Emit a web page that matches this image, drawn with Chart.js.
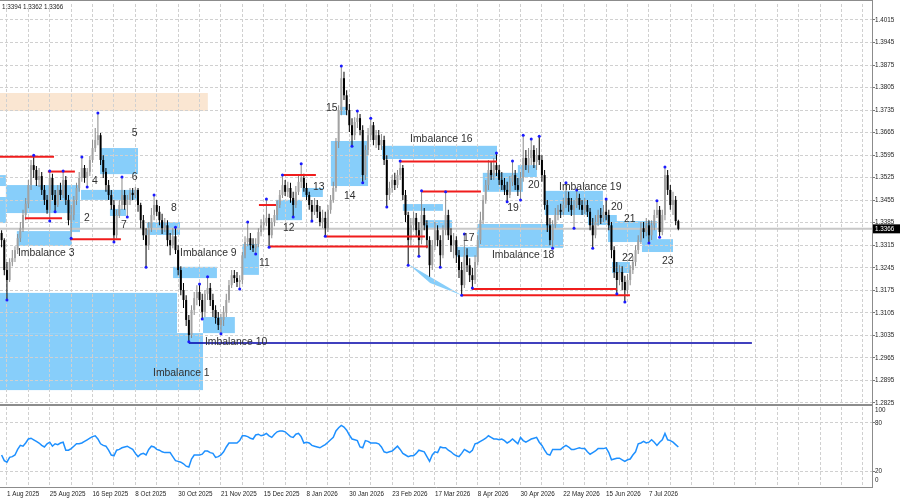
<!DOCTYPE html>
<html><head><meta charset="utf-8">
<script src="https://cdn.jsdelivr.net/npm/chart.js@4.4.1/dist/chart.umd.min.js"></script>
<style>
html,body{margin:0;padding:0;background:#fff;width:900px;height:500px;overflow:hidden}
#main{position:absolute;left:0;top:0}
#rsi{position:absolute;left:0;top:400px}
</style></head><body>
<canvas id="main" width="900" height="408"></canvas>
<canvas id="rsi" width="900" height="100"></canvas>
<script>
// ---------- DATA (daily bars; bar index 0 = 1 Aug 2025) ----------
const FIRST_BAR = -2;
const openP = [
1.3353,1.3331,1.3238,1.3207,1.3263,1.3275,1.3300,1.3337,1.3368,1.3409,
1.3444,1.3502,1.3564,1.3549,1.3518,1.3530,1.3487,1.3456,1.3425,1.3524,
1.3471,1.3440,1.3487,1.3471,1.3518,1.3456,1.3393,1.3409,1.3456,1.3493,
1.3524,1.3555,1.3524,1.3543,1.3580,1.3617,1.3642,1.3657,1.3580,1.3543,
1.3502,1.3471,1.3440,1.3346,1.3409,1.3440,1.3471,1.3440,1.3456,1.3478,
1.3471,1.3487,1.3440,1.3393,1.3346,1.3315,1.3368,1.3409,1.3440,1.3419,
1.3393,1.3368,1.3377,1.3331,1.3315,1.3343,1.3300,1.3238,1.3176,1.3145,
1.3083,1.3036,1.3114,1.3151,1.3170,1.3145,1.3108,1.3164,1.3182,1.3145,
1.3114,1.3089,1.3067,1.3083,1.3108,1.3145,1.3191,1.3222,1.3213,1.3201,
1.3207,1.3284,1.3325,1.3337,1.3315,1.3306,1.3319,1.3356,1.3377,1.3387,
1.3400,1.3346,1.3387,1.3409,1.3440,1.3471,1.3502,1.3481,1.3493,1.3462,
1.3440,1.3481,1.3512,1.3524,1.3493,1.3471,1.3440,1.3419,1.3440,1.3419,
1.3387,1.3400,1.3368,1.3425,1.3456,1.3493,1.3636,1.3735,1.3834,1.3781,
1.3735,1.3688,1.3657,1.3698,1.3710,1.3673,1.3533,1.3611,1.3657,1.3688,
1.3642,1.3657,1.3626,1.3642,1.3580,1.3471,1.3493,1.3518,1.3502,1.3533,
1.3555,1.3471,1.3409,1.3331,1.3377,1.3400,1.3362,1.3331,1.3409,1.3377,
1.3331,1.3253,1.3315,1.3362,1.3331,1.3284,1.3362,1.3409,1.3346,1.3315,
1.3331,1.3284,1.3238,1.3191,1.3284,1.3253,1.3222,1.3207,1.3263,1.3331,
1.3393,1.3456,1.3502,1.3549,1.3533,1.3564,1.3549,1.3518,1.3502,1.3487,
1.3471,1.3512,1.3533,1.3502,1.3487,1.3524,1.3586,1.3564,1.3586,1.3611,
1.3574,1.3595,1.3580,1.3533,1.3440,1.3377,1.3331,1.3377,1.3409,1.3425,
1.3419,1.3440,1.3462,1.3440,1.3425,1.3440,1.3462,1.3440,1.3425,1.3440,
1.3419,1.3377,1.3346,1.3387,1.3409,1.3400,1.3419,1.3409,1.3377,1.3300,
1.3232,1.3207,1.3232,1.3201,1.3176,1.3207,1.3238,1.3263,1.3300,1.3331,
1.3368,1.3356,1.3377,1.3346,1.3377,1.3409,1.3425,1.3356,1.3409,1.3533,
1.3487,1.3440,1.3456,1.3390];
const highP = [
1.3362,1.3337,1.3263,1.3275,1.3300,1.3312,1.3350,1.3387,1.3425,1.3462,
1.3518,1.3580,1.3595,1.3561,1.3555,1.3543,1.3502,1.3471,1.3546,1.3537,
1.3487,1.3502,1.3509,1.3546,1.3530,1.3471,1.3440,1.3468,1.3509,1.3543,
1.3589,1.3564,1.3555,1.3592,1.3642,1.3679,1.3726,1.3664,1.3595,1.3555,
1.3518,1.3487,1.3456,1.3425,1.3456,1.3527,1.3487,1.3471,1.3493,1.3493,
1.3496,1.3493,1.3447,1.3409,1.3368,1.3387,1.3431,1.3471,1.3456,1.3437,
1.3413,1.3400,1.3393,1.3353,1.3368,1.3371,1.3315,1.3250,1.3198,1.3160,
1.3098,1.3129,1.3170,1.3191,1.3195,1.3164,1.3176,1.3217,1.3198,1.3164,
1.3129,1.3108,1.3102,1.3126,1.3164,1.3207,1.3238,1.3238,1.3232,1.3222,
1.3294,1.3343,1.3387,1.3353,1.3337,1.3337,1.3368,1.3396,1.3409,1.3459,
1.3413,1.3400,1.3425,1.3456,1.3487,1.3533,1.3518,1.3512,1.3509,1.3481,
1.3499,1.3530,1.3568,1.3537,1.3509,1.3481,1.3456,1.3462,1.3456,1.3437,
1.3425,1.3419,1.3440,1.3471,1.3512,1.3648,1.3750,1.3872,1.3854,1.3797,
1.3754,1.3710,1.3713,1.3732,1.3723,1.3688,1.3626,1.3679,1.3710,1.3698,
1.3673,1.3673,1.3661,1.3655,1.3595,1.3512,1.3533,1.3540,1.3549,1.3577,
1.3564,1.3487,1.3419,1.3400,1.3419,1.3415,1.3387,1.3484,1.3431,1.3393,
1.3343,1.3331,1.3387,1.3377,1.3346,1.3377,1.3481,1.3425,1.3368,1.3353,
1.3343,1.3300,1.3263,1.3350,1.3306,1.3275,1.3244,1.3284,1.3346,1.3419,
1.3471,1.3518,1.3580,1.3574,1.3586,1.3602,1.3564,1.3543,1.3524,1.3512,
1.3530,1.3577,1.3549,1.3524,1.3543,1.3657,1.3611,1.3617,1.3645,1.3626,
1.3617,1.3654,1.3595,1.3549,1.3456,1.3400,1.3393,1.3431,1.3440,1.3444,
1.3462,1.3509,1.3481,1.3462,1.3456,1.3487,1.3475,1.3456,1.3462,1.3456,
1.3431,1.3400,1.3409,1.3425,1.3431,1.3440,1.3459,1.3425,1.3387,1.3312,
1.3263,1.3253,1.3250,1.3220,1.3226,1.3253,1.3281,1.3315,1.3346,1.3387,
1.3387,1.3400,1.3393,1.3393,1.3425,1.3453,1.3437,1.3425,1.3558,1.3549,
1.3502,1.3481,1.3468,1.3394];
const lowP = [
1.3309,1.3222,1.3145,1.3201,1.3250,1.3263,1.3288,1.3325,1.3356,1.3393,
1.3431,1.3487,1.3524,1.3499,1.3496,1.3471,1.3440,1.3413,1.3390,1.3456,
1.3419,1.3434,1.3456,1.3462,1.3440,1.3377,1.3337,1.3393,1.3440,1.3481,
1.3512,1.3509,1.3496,1.3530,1.3571,1.3605,1.3626,1.3564,1.3524,1.3481,
1.3456,1.3425,1.3325,1.3337,1.3400,1.3425,1.3425,1.3403,1.3440,1.3456,
1.3462,1.3419,1.3368,1.3331,1.3247,1.3300,1.3356,1.3393,1.3406,1.3377,
1.3350,1.3356,1.3312,1.3284,1.3306,1.3288,1.3222,1.3160,1.3120,1.3064,
1.3015,1.3027,1.3098,1.3129,1.3126,1.3086,1.3092,1.3145,1.3126,1.3092,
1.3071,1.3052,1.3040,1.3064,1.3092,1.3136,1.3182,1.3198,1.3185,1.3179,
1.3195,1.3275,1.3312,1.3300,1.3294,1.3288,1.3309,1.3343,1.3362,1.3374,
1.3309,1.3337,1.3374,1.3393,1.3431,1.3462,1.3468,1.3465,1.3447,1.3403,
1.3431,1.3471,1.3493,1.3481,1.3456,1.3425,1.3390,1.3409,1.3400,1.3374,
1.3368,1.3343,1.3356,1.3413,1.3447,1.3481,1.3617,1.3719,1.3766,1.3719,
1.3667,1.3623,1.3642,1.3679,1.3657,1.3509,1.3518,1.3595,1.3642,1.3626,
1.3617,1.3611,1.3611,1.3564,1.3434,1.3456,1.3478,1.3487,1.3493,1.3518,
1.3456,1.3387,1.3253,1.3315,1.3362,1.3343,1.3281,1.3318,1.3362,1.3306,
1.3217,1.3238,1.3300,1.3312,1.3247,1.3275,1.3346,1.3331,1.3294,1.3275,
1.3260,1.3213,1.3160,1.3182,1.3232,1.3201,1.3182,1.3195,1.3253,1.3319,
1.3381,1.3444,1.3487,1.3518,1.3518,1.3530,1.3502,1.3487,1.3471,1.3450,
1.3462,1.3499,1.3487,1.3468,1.3456,1.3512,1.3549,1.3540,1.3564,1.3555,
1.3549,1.3564,1.3512,1.3425,1.3356,1.3315,1.3306,1.3368,1.3393,1.3400,
1.3409,1.3431,1.3419,1.3406,1.3368,1.3431,1.3425,1.3409,1.3413,1.3403,
1.3362,1.3306,1.3337,1.3374,1.3381,1.3387,1.3393,1.3362,1.3275,1.3213,
1.3164,1.3191,1.3176,1.3139,1.3164,1.3191,1.3226,1.3250,1.3288,1.3319,
1.3337,1.3343,1.3322,1.3331,1.3362,1.3400,1.3340,1.3346,1.3393,1.3471,
1.3425,1.3409,1.3377,1.3362];
const closeP = [
1.3331,1.3238,1.3207,1.3263,1.3275,1.3300,1.3337,1.3368,1.3409,1.3444,
1.3502,1.3564,1.3549,1.3518,1.3530,1.3487,1.3456,1.3425,1.3524,1.3471,
1.3440,1.3487,1.3471,1.3518,1.3456,1.3393,1.3409,1.3456,1.3493,1.3524,
1.3555,1.3524,1.3543,1.3580,1.3617,1.3642,1.3657,1.3580,1.3543,1.3502,
1.3471,1.3440,1.3346,1.3409,1.3440,1.3471,1.3440,1.3456,1.3478,1.3471,
1.3487,1.3440,1.3393,1.3346,1.3315,1.3368,1.3409,1.3440,1.3419,1.3393,
1.3368,1.3377,1.3331,1.3315,1.3343,1.3300,1.3238,1.3176,1.3145,1.3083,
1.3036,1.3114,1.3151,1.3170,1.3145,1.3108,1.3164,1.3182,1.3145,1.3114,
1.3089,1.3067,1.3083,1.3108,1.3145,1.3191,1.3222,1.3213,1.3201,1.3207,
1.3284,1.3325,1.3337,1.3315,1.3306,1.3319,1.3356,1.3377,1.3387,1.3400,
1.3346,1.3387,1.3409,1.3440,1.3471,1.3502,1.3481,1.3493,1.3462,1.3440,
1.3481,1.3512,1.3524,1.3493,1.3471,1.3440,1.3419,1.3440,1.3419,1.3387,
1.3400,1.3368,1.3425,1.3456,1.3493,1.3636,1.3735,1.3834,1.3781,1.3735,
1.3688,1.3657,1.3698,1.3710,1.3673,1.3533,1.3611,1.3657,1.3688,1.3642,
1.3657,1.3626,1.3642,1.3580,1.3471,1.3493,1.3518,1.3502,1.3533,1.3555,
1.3471,1.3409,1.3331,1.3377,1.3400,1.3362,1.3331,1.3409,1.3377,1.3331,
1.3253,1.3315,1.3362,1.3331,1.3284,1.3362,1.3409,1.3346,1.3315,1.3331,
1.3284,1.3238,1.3191,1.3284,1.3253,1.3222,1.3207,1.3263,1.3331,1.3393,
1.3456,1.3502,1.3549,1.3533,1.3564,1.3549,1.3518,1.3502,1.3487,1.3471,
1.3512,1.3533,1.3502,1.3487,1.3524,1.3586,1.3564,1.3586,1.3611,1.3574,
1.3595,1.3580,1.3533,1.3440,1.3377,1.3331,1.3377,1.3409,1.3425,1.3419,
1.3440,1.3462,1.3440,1.3425,1.3440,1.3462,1.3440,1.3425,1.3440,1.3419,
1.3377,1.3346,1.3387,1.3409,1.3400,1.3419,1.3409,1.3377,1.3300,1.3232,
1.3207,1.3232,1.3201,1.3176,1.3207,1.3238,1.3263,1.3300,1.3331,1.3368,
1.3356,1.3377,1.3346,1.3377,1.3409,1.3425,1.3356,1.3409,1.3533,1.3487,
1.3440,1.3456,1.3390,1.3366];
const rsiValues = [
40,33,31,37,38,40,47,52,51,55,
60,61,59,57,55,52,50,54,56,51,
54,53,55,56,46,46,48,51,54,54,
55,57,59,61,63,64,60,54,52,51,
46,40,39,46,47,49,50,51,49,47,
42,38,41,42,40,47,51,50,47,46,
44,43,43,43,38,33,32,31,29,26,
25,35,40,40,40,41,45,45,43,42,
37,38,40,44,50,55,55,55,55,58,
64,64,63,61,60,65,66,64,65,67,
64,62,66,69,70,70,69,66,63,62,
66,67,63,55,56,55,52,51,50,49,
51,53,56,59,62,70,74,77,75,71,
65,60,59,58,50,49,58,57,55,55,
55,54,50,44,43,44,45,48,51,47,
42,40,38,39,39,42,46,45,44,38,
32,40,44,43,50,49,49,46,44,41,
39,38,42,47,45,43,46,54,55,57,
59,61,64,62,60,60,59,60,58,55,
57,60,57,54,62,58,56,58,60,61,
62,56,52,46,41,40,47,47,47,47,
50,52,50,47,47,48,49,48,48,44,
41,43,45,48,48,48,49,43,34,35,
36,36,34,32,34,35,40,44,54,55,
57,55,56,59,56,52,56,59,67,59,
58,56,53,50];

// x-axis date labels, one every 16 bars starting at bar 0
const tickLabels = ['1 Aug 2025','25 Aug 2025','16 Sep 2025','8 Oct 2025','30 Oct 2025','21 Nov 2025',
  '15 Dec 2025','8 Jan 2026','30 Jan 2026','23 Feb 2026','17 Mar 2026','8 Apr 2026','30 Apr 2026',
  '22 May 2026','15 Jun 2026','7 Jul 2026'];
const priceTicks = [1.2825,1.2895,1.2965,1.3035,1.3105,1.3175,1.3245,1.3315,1.3385,1.3455,
  1.3525,1.3595,1.3665,1.3735,1.3805,1.3875,1.3945,1.4015];
const rsiLevels = [20, 80];

// zones: [fromBar, toBar, upperPrice, lowerPrice]
const supplyZones = [[-2.6, 75.1, 1.3788, 1.3732]];
const imbalanceZones = [
  [-2.6,-0.4,1.3533,1.3499],[-0.4,27.3,1.3502,1.3415],[-2.6,-0.4,1.3465,1.3384],[23.6,27.3,1.3415,1.3356],
  [3.7,24.3,1.3359,1.3313],[34.8,49.0,1.3617,1.3536],[27.7,49.0,1.3487,1.3456],[38.5,44.5,1.3428,1.3406],
  [52.3,64.7,1.3387,1.3347],[62.1,78.5,1.3248,1.3213],[73.3,85.2,1.3092,1.3042],[-2.6,63.6,1.3167,1.3042],
  [-2.6,73.3,1.3042,1.2865],[87.9,94.2,1.3319,1.3223],[100.6,110.3,1.3456,1.3393],[110.3,118.1,1.3493,1.3465],
  [121.1,135.0,1.3639,1.3499],[124.5,127.1,1.3745,1.3720],[140.2,183.2,1.3624,1.3583],[148.0,163.0,1.3443,1.3422],
  [156.3,166.4,1.3393,1.3369],[168.2,176.1,1.3310,1.3279],[175.7,207.9,1.3381,1.3307],[177.9,192.9,1.3540,1.3481],
  [191.0,198.1,1.3564,1.3527],[201.1,222.8,1.3484,1.3409],[217.2,228.0,1.3409,1.3378],[224.7,243.0,1.3390,1.3325],
  [226.2,232.9,1.3263,1.3229],[237.4,249.0,1.3334,1.3294]];
const wedge = [[150,1.3257],[170,1.3160],[158.2,1.3198]];
// liquidity levels: [fromBar, toBar, price]
const liquidityLines = [
  [-2.6,17.6,1.3590],[15.3,25.4,1.3544],[6.7,20.6,1.3399],[23.6,42.6,1.3334],[94.2,100.6,1.3440],
  [103.2,115.5,1.3533],[98.3,157.4,1.3311],[119.3,156.3,1.3342],[146.9,183.2,1.3575],[155.1,177.2,1.3482],
  [170.1,232.9,1.3160],[173.8,228.0,1.3179]];
const imbalanceLine = [68, 278.5, 1.3011];
// swing points [bar, price]
const fractals = [
  [0,1.3145],[10,1.3595],[16,1.3546],[16,1.3390],[18,1.3419],[21,1.3546],[24,1.3337],[28,1.3589],[30,1.3496],
  [34,1.3726],[40,1.3325],[43,1.3527],[45,1.3403],[52,1.3247],[55,1.3471],[63,1.3371],[68,1.3015],[72,1.3195],
  [73,1.3086],[75,1.3217],[80,1.3040],[87,1.3179],[90,1.3387],[93,1.3288],[97,1.3459],[98,1.3309],[103,1.3533],
  [107,1.3403],[110,1.3568],[114,1.3390],[119,1.3343],[125,1.3872],[129,1.3623],[131,1.3732],[133,1.3509],
  [136,1.3710],[142,1.3434],[147,1.3577],[150,1.3253],[154,1.3281],[155,1.3484],[162,1.3247],[164,1.3481],
  [170,1.3160],[171,1.3350],[174,1.3182],[183,1.3602],[187,1.3450],[189,1.3577],[192,1.3456],[193,1.3657],
  [196,1.3645],[199,1.3654],[204,1.3306],[209,1.3509],[212,1.3368],[213,1.3487],[219,1.3306],[224,1.3459],
  [228,1.3164],[231,1.3139],[240,1.3322],[243,1.3453],[244,1.3340],[246,1.3558]];
// text notes [text, bar, price]
const notes = [
  ['Imbalance 1',54.6,1.2918],['Imbalance 3',4.1,1.3291],['Imbalance 9',64.7,1.3291],['Imbalance 10',74.0,1.3014],
  ['Imbalance 16',150.7,1.3645],['Imbalance 18',181.3,1.3285],['Imbalance 19',206.4,1.3496],
  ['2',28.8,1.3400],['4',31.8,1.3515],['5',46.7,1.3664],['6',46.7,1.3527],['7',42.6,1.3378],['8',61.3,1.3431],
  ['11',94.2,1.3260],['12',103.2,1.3369],['13',114.4,1.3496],['14',126.0,1.3468],['15',119.3,1.3742],
  ['17',170.5,1.3338],['19',187.0,1.3431],['20',194.8,1.3502],['20',225.8,1.3434],['21',230.7,1.3397],
  ['22',229.9,1.3275],['23',244.9,1.3266]];

// ---------- STYLE ----------
const FONT_FAMILY = "'Liberation Sans', Arial, sans-serif";
const AXIS_FONT = {family: FONT_FAMILY, size: 6.3};
const AXIS_COLOR = '#1e1e1e';
const GRID_COLOR = '#d0d0d0';
const GRID_DASH = [3, 2];
const FRAME = '#8c8c8c';
const X_MIN = -2.6, X_MAX = 323.4;
const Y_MIN = 1.28218, Y_MAX = 1.40646;
Chart.defaults.font.family = FONT_FAMILY;

const gridBars = [];
for (let v = 0; v <= 320; v += 8) gridBars.push(v);

const last = closeP.length - 1;
const CURRENT = closeP[last];
const header = [highP[last], lowP[last], closeP[last]].map(v => v.toFixed(4)).join(' ');

const barX = k => k + FIRST_BAR;
const isBull = k => closeP[k] >= openP[k];
const wickColors = closeP.map((c, k) => isBull(k) ? '#8a8a8a' : '#000000');
const bodyColors = closeP.map((c, k) => isBull(k) ? '#a2a2a2' : '#000000');

const mainDecor = {
  id: 'mainDecor',
  beforeDraw(chart) {
    const {ctx, chartArea: a, scales: {x, y}} = chart;
    ctx.save();
    ctx.beginPath(); ctx.rect(a.left, a.top, a.width, a.height); ctx.clip();
    const rect = (z, color) => {
      const x0 = x.getPixelForValue(z[0]), x1 = x.getPixelForValue(z[1]);
      const y0 = y.getPixelForValue(z[2]), y1 = y.getPixelForValue(z[3]);
      ctx.fillStyle = color; ctx.fillRect(x0, y0, x1 - x0, y1 - y0);
    };
    supplyZones.forEach(z => rect(z, '#fae6d2'));
    imbalanceZones.forEach(z => rect(z, '#87cefa'));
    ctx.beginPath();
    wedge.forEach((p, k) => {
      const px = x.getPixelForValue(p[0]), py = y.getPixelForValue(p[1]);
      if (k === 0) ctx.moveTo(px, py); else ctx.lineTo(px, py);
    });
    ctx.closePath(); ctx.fillStyle = '#87cefa'; ctx.fill();
    ctx.restore();
  },
  afterDatasetsDraw(chart) {
    const {ctx, scales: {x, y}} = chart;
    ctx.save();
    ctx.font = '10.4px ' + FONT_FAMILY;
    ctx.fillStyle = '#303030';
    ctx.textAlign = 'left'; ctx.textBaseline = 'middle';
    notes.forEach(n => ctx.fillText(n[0], x.getPixelForValue(n[1]), y.getPixelForValue(n[2])));
    ctx.restore();
  },
  afterDraw(chart) {
    const {ctx, chartArea: a, scales: {y}} = chart;
    ctx.save();
    ctx.strokeStyle = FRAME; ctx.lineWidth = 1;
    ctx.beginPath(); ctx.moveTo(0, 0.5); ctx.lineTo(a.right, 0.5); ctx.stroke();
    ctx.beginPath(); ctx.moveTo(a.right + 0.5, 0); ctx.lineTo(a.right + 0.5, chart.height); ctx.stroke();
    const py = y.getPixelForValue(CURRENT);
    ctx.fillStyle = '#000'; ctx.fillRect(a.right + 1, py - 4.5, 27, 9);
    ctx.font = '6.3px ' + FONT_FAMILY; ctx.textBaseline = 'middle'; ctx.textAlign = 'left';
    ctx.fillStyle = '#fff'; ctx.fillText(CURRENT.toFixed(4), a.right + 3, py);
    ctx.fillStyle = AXIS_COLOR; ctx.fillText(header, 2, 7);
    ctx.restore();
  }
};

const mainDatasets = [
  {type: 'line', data: [{x: X_MIN, y: CURRENT}, {x: X_MAX, y: CURRENT}], borderColor: '#c8c8c8',
   borderWidth: 2, pointRadius: 0, order: 10},
  {type: 'bar', data: closeP.map((c, k) => ({x: barX(k), y: [lowP[k], highP[k]]})), backgroundColor: wickColors,
   barThickness: 1, grouped: false, inflateAmount: 0, borderWidth: 0, order: 6},
  {type: 'bar', data: closeP.map((c, k) => ({x: barX(k), y: [openP[k], c]})), backgroundColor: bodyColors,
   barThickness: 2, grouped: false, inflateAmount: 0, borderWidth: 0, minBarLength: 1, order: 5},
  ...liquidityLines.map(l => ({type: 'line', data: [{x: l[0], y: l[2]}, {x: l[1], y: l[2]}],
     borderColor: '#f01c1c', borderWidth: 2, pointRadius: 0, order: 3})),
  {type: 'line', data: [{x: imbalanceLine[0], y: imbalanceLine[2]}, {x: imbalanceLine[1], y: imbalanceLine[2]}],
   borderColor: '#0000a8', borderWidth: 1.5, pointRadius: 0, order: 3},
  {type: 'scatter', data: fractals.map(f => ({x: f[0], y: f[1]})), pointRadius: 1.5,
   pointBackgroundColor: '#1a1aff', pointBorderWidth: 0, order: 1}
];

new Chart(document.getElementById('main'), {
  type: 'bar',
  data: {datasets: mainDatasets},
  options: {
    responsive: false, animation: false, events: [], devicePixelRatio: 1,
    layout: {autoPadding: false, padding: {top: 4, bottom: 4, left: 0, right: 0}},
    plugins: {legend: {display: false}, tooltip: {enabled: false}},
    scales: {
      x: {type: 'linear', min: X_MIN, max: X_MAX, offset: false,
          afterBuildTicks: s => { s.ticks = gridBars.map(v => ({value: v})); },
          afterFit: s => { s.height = 0; s.paddingLeft = 0; s.paddingRight = 0; },
          ticks: {display: false},
          grid: {color: GRID_COLOR, lineWidth: 1, drawTicks: false, offset: false},
          border: {display: false, dash: GRID_DASH}},
      y: {type: 'linear', position: 'right', min: Y_MIN, max: Y_MAX,
          afterBuildTicks: s => { s.ticks = priceTicks.map(v => ({value: v})); },
          afterFit: s => { s.width = 28; },
          ticks: {font: AXIS_FONT, color: AXIS_COLOR, padding: 0, callback: v => Number(v).toFixed(4)},
          grid: {color: GRID_COLOR, lineWidth: 1, drawTicks: true, tickLength: 3, tickColor: '#777', tickWidth: 1},
          border: {display: false, dash: GRID_DASH}}
    }
  },
  plugins: [mainDecor]
});

const rsiDecor = {
  id: 'rsiDecor',
  afterDraw(chart) {
    const {ctx, chartArea: a} = chart;
    ctx.save();
    ctx.strokeStyle = FRAME;
    ctx.lineWidth = 2;
    ctx.beginPath(); ctx.moveTo(0, 5); ctx.lineTo(a.right + 1, 5); ctx.stroke();
    ctx.lineWidth = 1;
    ctx.beginPath(); ctx.moveTo(a.right + 0.5, 0); ctx.lineTo(a.right + 0.5, a.bottom + 1); ctx.stroke();
    ctx.beginPath(); ctx.moveTo(0, a.bottom + 0.5); ctx.lineTo(a.right + 1, a.bottom + 0.5); ctx.stroke();
    ctx.font = '6.3px ' + FONT_FAMILY; ctx.fillStyle = AXIS_COLOR;
    ctx.textAlign = 'left'; ctx.textBaseline = 'middle';
    ctx.fillText('100', a.right + 3, a.top + 3.7);
    ctx.fillText('0', a.right + 3, a.bottom - 6.3);
    ctx.restore();
  }
};

new Chart(document.getElementById('rsi'), {
  type: 'line',
  data: {datasets: [{data: rsiValues.map((v, k) => ({x: barX(k), y: v})), borderColor: '#1e90ff',
    borderWidth: 1.5, pointRadius: 0, tension: 0}]},
  options: {
    responsive: false, animation: false, events: [], devicePixelRatio: 1,
    layout: {autoPadding: false, padding: {top: 7, bottom: 0, left: 0, right: 0}},
    plugins: {legend: {display: false}, tooltip: {enabled: false}},
    scales: {
      x: {type: 'linear', min: X_MIN, max: X_MAX, offset: false,
          afterBuildTicks: s => { s.ticks = gridBars.map(v => ({value: v})); },
          afterFit: s => { s.height = 13; },
          ticks: {font: AXIS_FONT, color: AXIS_COLOR, align: 'start', maxRotation: 0, minRotation: 0,
                  autoSkip: false, padding: 3,
                  callback: v => (v % 16 === 0 && v / 16 < tickLabels.length) ? tickLabels[v / 16] : ''},
          grid: {color: GRID_COLOR, lineWidth: 1, drawTicks: false, offset: false},
          border: {display: false, dash: GRID_DASH}},
      y: {type: 'linear', position: 'right', min: 0, max: 100,
          afterBuildTicks: s => { s.ticks = rsiLevels.map(v => ({value: v})); },
          afterFit: s => { s.width = 28; },
          ticks: {font: AXIS_FONT, color: AXIS_COLOR, padding: 0},
          grid: {color: GRID_COLOR, lineWidth: 1, drawTicks: true, tickLength: 3, tickColor: '#777'},
          border: {display: false, dash: GRID_DASH}}
    }
  },
  plugins: [rsiDecor]
});
</script>
</body></html>
